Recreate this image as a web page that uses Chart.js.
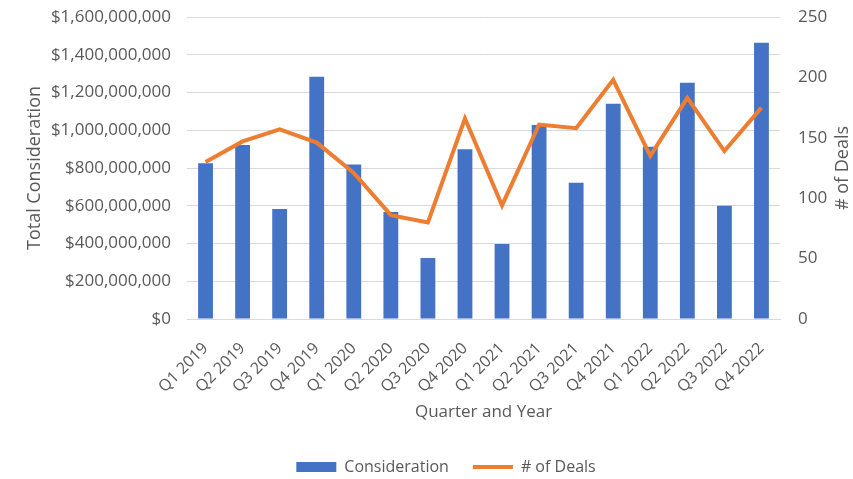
<!DOCTYPE html>
<html>
<head>
<meta charset="utf-8">
<script src="https://cdn.jsdelivr.net/npm/chart.js@4.4.1/dist/chart.umd.min.js"></script>
<style>
  html, body { margin: 0; padding: 0; background: #fff; }
  #wrap { width: 853px; height: 479px; position: relative; }
</style>
</head>
<body>
<div id="wrap"><canvas id="chart"></canvas></div>
<script>
const quarters = ["Q1 2019", "Q2 2019", "Q3 2019", "Q4 2019", "Q1 2020", "Q2 2020", "Q3 2020", "Q4 2020",
  "Q1 2021", "Q2 2021", "Q3 2021", "Q4 2021", "Q1 2022", "Q2 2022", "Q3 2022", "Q4 2022"];
const consideration = [825e6, 922e6, 583e6, 1284e6, 818e6, 567e6, 323e6, 899e6,
  397e6, 1028e6, 722e6, 1141e6, 913e6, 1252e6, 600e6, 1464e6];
const deals = [130, 147, 157, 146, 121, 86, 80, 166, 94, 161, 158, 198, 135, 183, 139, 175];

const textColor = "#595959";
const fontFamily = "'Open Sans', sans-serif";

// right axis title reads bottom-to-top like the left one
const rightTitle = {
  id: "rightTitle",
  afterDraw(chart) {
    const { ctx, chartArea } = chart;
    ctx.save();
    ctx.fillStyle = textColor;
    ctx.font = "18px " + fontFamily;
    ctx.textAlign = "center";
    ctx.textBaseline = "middle";
    ctx.translate(843, (chartArea.top + chartArea.bottom) / 2);
    ctx.rotate(-Math.PI / 2);
    ctx.fillText("# of Deals", 0, 0);
    ctx.restore();
  },
};

const ctx = document.getElementById("chart").getContext("2d");
new Chart(ctx, {
  data: {
    labels: quarters,
    datasets: [
      {
        type: "bar",
        label: "Consideration",
        data: consideration,
        backgroundColor: "#4472C4",
        borderWidth: 0,
        barPercentage: 0.4,
        categoryPercentage: 1,
        yAxisID: "y",
        order: 1,
      },
      {
        type: "line",
        label: "# of Deals",
        data: deals,
        borderColor: "#ED7D31",
        backgroundColor: "#ED7D31",
        borderWidth: 4,
        pointRadius: 0,
        tension: 0,
        fill: false,
        yAxisID: "y1",
        order: 0,
      },
    ],
  },
  options: {
    responsive: true,
    maintainAspectRatio: false,
    animation: false,
    layout: { padding: { top: 17, left: 39, right: 0, bottom: -6 } },
    plugins: {
      legend: {
        position: "bottom",
        labels: {
          color: textColor,
          font: { family: fontFamily, size: 16 },
          usePointStyle: true,
          pointStyleWidth: 40,
          boxHeight: 10,
          padding: 24,
          generateLabels(chart) {
            return chart.data.datasets.map((ds, i) => ({
              text: ds.label,
              fillStyle: ds.backgroundColor,
              strokeStyle: ds.type === "line" ? ds.borderColor : ds.backgroundColor,
              lineWidth: ds.type === "line" ? 4 : 0,
              pointStyle: ds.type === "line" ? "line" : "rect",
              fontColor: textColor,
              datasetIndex: i,
              hidden: false,
            }));
          },
        },
      },
      tooltip: { enabled: false },
    },
    scales: {
      x: {
        grid: { display: false, drawTicks: false },
        border: { color: "#D9D9D9", width: 1 },
        ticks: {
          color: textColor,
          font: { family: fontFamily, size: 16 },
          minRotation: 45,
          maxRotation: 45,
          padding: 20,
          autoSkip: false,
        },
        title: {
          display: true,
          text: "Quarter and Year",
          color: textColor,
          font: { family: fontFamily, size: 17 },
          padding: { top: 0, bottom: 13 },
        },
        afterFit(scale) { scale.height = 116; },
      },
      y: {
        position: "left",
        min: 0,
        max: 1600000000,
        grid: { color: "#D9D9D9", lineWidth: 1, drawTicks: false },
        border: { display: false },
        ticks: {
          stepSize: 200000000,
          color: textColor,
          font: { family: fontFamily, size: 17 },
          padding: 16,
          callback: (v) => "$" + Number(v).toLocaleString("en-US"),
        },
        title: {
          display: true,
          text: "Total Consideration",
          color: textColor,
          font: { family: fontFamily, size: 18 },
          padding: { top: -15, bottom: -15 },
        },
        afterFit(scale) {
          scale.width = 148;
          scale.paddingTop = 0;
          scale.paddingBottom = 0;
        },
      },
      y1: {
        position: "right",
        min: 0,
        max: 250,
        grid: { display: false, drawTicks: false },
        border: { display: false },
        ticks: {
          stepSize: 50,
          color: textColor,
          font: { family: fontFamily, size: 17 },
          padding: 18,
        },
        afterFit(scale) {
          scale.width = 73;
          scale.paddingTop = 0;
          scale.paddingBottom = 0;
        },
      },
    },
  },
  plugins: [rightTitle],
});
</script>
</body>
</html>
